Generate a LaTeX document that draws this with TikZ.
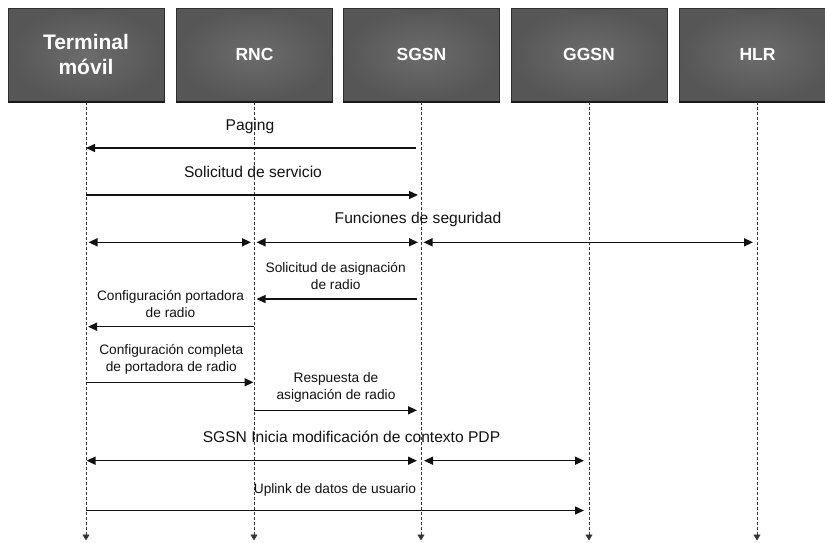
\documentclass[tikz,border=0pt]{standalone}
\usepackage{fontspec}
\setmainfont{Liberation Sans}
\usetikzlibrary{arrows.meta}

\definecolor{boxlight}{HTML}{6C6C6C}
\definecolor{boxdark}{HTML}{565656}
\definecolor{boxedge}{HTML}{2E2E2E}
\definecolor{ink}{HTML}{111111}

\begin{document}
\begin{tikzpicture}[x=1pt,y=-1pt,
  entity/.style={draw=boxedge, line width=1pt, inner color=boxlight, outer color=boxdark,
    minimum width=156pt, minimum height=93pt, inner sep=0pt, text=white, align=center,
    font=\bfseries\fontsize{17.5}{21}\selectfont},
  lifeline/.style={draw=ink!85, line width=0.9pt, dash pattern=on 3pt off 2pt,
    -{Triangle[length=6pt,width=7pt]}},
  msg/.style={draw=ink, line width=1.4pt, -{Triangle[length=9pt,width=8pt]}},
  dbl/.style={draw=ink, line width=1.4pt, {Triangle[length=9pt,width=8pt]}-{Triangle[length=9pt,width=8pt]}},
  biglbl/.style={inner sep=0pt, text=ink, align=center, font=\fontsize{15.6}{19}\selectfont},
  smalllbl/.style={inner sep=0pt, text=ink, align=center, font=\fontsize{13.7}{16.7}\selectfont},
]
\useasboundingbox (0,0) rectangle (825,542);
\clip (0,0) rectangle (825,542);

% header boxes
\node[entity, font=\bfseries\fontsize{21}{25}\selectfont] (term) at (86,54.5) {Terminal\\móvil};
\node[entity] (rnc)  at (254.5,54.5) {RNC};
\node[entity] (sgsn) at (421.5,54.5) {SGSN};
\node[entity] (ggsn) at (589,54.5)   {GGSN};
\node[entity] (hlr)  at (757.5,54.5) {HLR};
\foreach \n in {term,rnc,sgsn,ggsn,hlr}
  \draw[black!90, line width=1.6pt] ([yshift=-0.4pt]\n.south west) -- ([yshift=-0.4pt]\n.south east);

% lifelines
\coordinate (termEnd) at (86,540.5);
\coordinate (rncEnd)  at (254,540.5);
\coordinate (sgsnEnd) at (421,540.5);
\coordinate (ggsnEnd) at (589,540.5);
\coordinate (hlrEnd)  at (757,540.5);
\draw[lifeline] (term.south -| termEnd) -- (termEnd);
\draw[lifeline] (rnc.south -| rncEnd)   -- (rncEnd);
\draw[lifeline] (sgsn.south -| sgsnEnd) -- (sgsnEnd);
\draw[lifeline] (ggsn.south -| ggsnEnd) -- (ggsnEnd);
\draw[lifeline] (hlr.south -| hlrEnd)   -- (hlrEnd);

% Paging
\node[biglbl] (lPaging) at (250,126.7) {Paging};
\draw[msg, shorten <=5pt, shorten >=0pt] (sgsnEnd |- 0,148) -- (termEnd |- 0,148);

% Solicitud de servicio
\node[biglbl] (lServ) at (253,171.7) {Solicitud de servicio};
\draw[msg, shorten >=3pt] (termEnd |- 0,195) -- (sgsnEnd |- 0,195);

% Funciones de seguridad
\node[biglbl] (lSeg) at (418,219) {Funciones de seguridad};
\draw[dbl, shorten <=2.5pt, shorten >=3pt] (termEnd |- 0,242.3) -- (rncEnd |- 0,242.3);
\draw[dbl, shorten <=2.5pt, shorten >=3pt] (rncEnd |- 0,242.3) -- (sgsnEnd |- 0,242.3);
\draw[dbl, shorten <=2.5pt, shorten >=4pt] (sgsnEnd |- 0,242.3) -- (hlrEnd |- 0,242.3);

% Solicitud de asignacion de radio
\node[smalllbl] (lAsig) at (335.7,275.8) {Solicitud de asignación\\de radio};
\draw[msg, shorten <=4pt, shorten >=2.5pt] (sgsnEnd |- 0,299) -- (rncEnd |- 0,299);

% Configuracion portadora de radio
\node[smalllbl] (lPort) at (170.5,304.3) {Configuración portadora\\de radio};
\draw[msg, shorten >=2pt] (rncEnd |- 0,326.7) -- (termEnd |- 0,326.7);

% Configuracion completa de portadora de radio
\node[smalllbl] (lComp) at (171.3,359.5) {Configuración completa\\de portadora de radio};
\draw[msg, shorten >=0.5pt] (termEnd |- 0,382.3) -- (rncEnd |- 0,382.3);

% Respuesta de asignacion de radio
\node[smalllbl] (lResp) at (336,387.5) {Respuesta de\\asignación de radio};
\draw[msg, shorten >=4pt] (rncEnd |- 0,410.3) -- (sgsnEnd |- 0,410.3);

% SGSN inicia modificacion de contexto PDP
\node[biglbl] (lPdp) at (351.5,437) {SGSN Inicia modificación de contexto PDP};
\draw[dbl, shorten <=0.5pt, shorten >=4pt] (termEnd |- 0,460.7) -- (sgsnEnd |- 0,460.7);
\draw[dbl, shorten <=3pt, shorten >=5pt] (sgsnEnd |- 0,460.7) -- (ggsnEnd |- 0,460.7);

% Uplink de datos de usuario
\node[smalllbl] (lUp) at (335,490) {Uplink de datos de usuario};
\draw[msg, shorten >=5pt] (termEnd |- 0,510.5) -- (ggsnEnd |- 0,510.5);
\end{tikzpicture}
\end{document}
